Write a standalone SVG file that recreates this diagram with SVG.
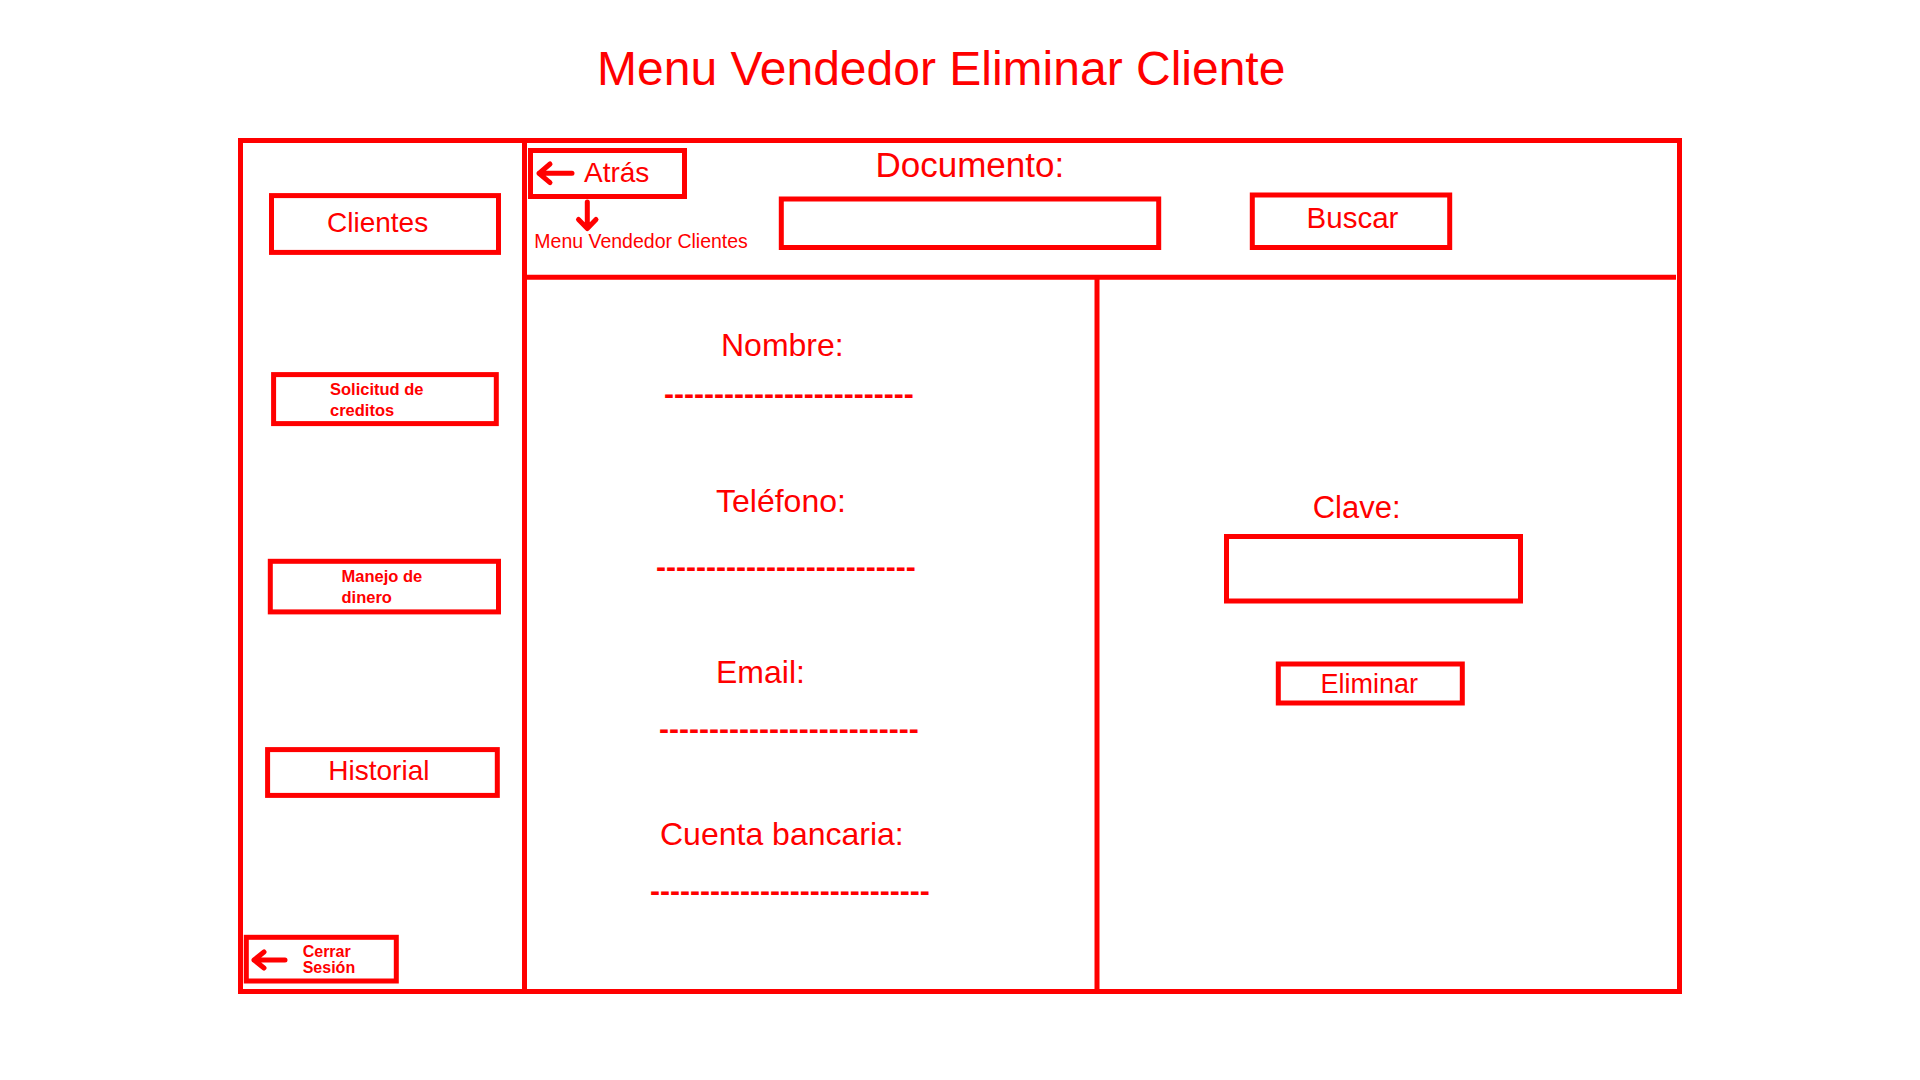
<svg xmlns="http://www.w3.org/2000/svg" width="1920" height="1080" viewBox="0 0 1920 1080">
<style>
.box{fill:none;stroke:#ff0000;stroke-width:5}
.line{stroke:#ff0000;stroke-width:5;fill:none}
.arr{stroke:#ff0000;stroke-width:5;fill:none;stroke-linecap:round;stroke-linejoin:round}
text{fill:#ff0000;font-family:"Liberation Sans",Arial,sans-serif}
.t28{font-size:28px}
.t32{font-size:32px}
.sm{font-size:16.5px;font-weight:bold}
.dash{font-size:30px;font-weight:bold}
</style>
<rect width="1920" height="1080" fill="#ffffff"/>
<text x="597" y="85" style="font-size:48px">Menu Vendedor Eliminar Cliente</text>
<g id="frame">
<rect class="box" x="240.5" y="140.5" width="1439" height="851"/>
<line class="line" x1="524.5" y1="140" x2="524.5" y2="992"/>
<line class="line" x1="524.5" y1="277.3" x2="1676" y2="277.3"/>
<line class="line" x1="1097" y1="277" x2="1097" y2="992"/>
</g>
<g id="clientes">
<rect class="box" x="271.5" y="195.6" width="227" height="56.8"/>
<text class="t28" x="327" y="232">Clientes</text>
</g>
<g id="solicitud">
<rect class="box" x="273.6" y="374.6" width="222.7" height="49"/>
<text class="sm" x="330" y="394.7">Solicitud de</text>
<text class="sm" x="330" y="416">creditos</text>
</g>
<g id="manejo">
<rect class="box" x="270.3" y="561.3" width="228.2" height="50.6"/>
<text class="sm" x="341.5" y="581.7">Manejo de</text>
<text class="sm" x="341.5" y="603.3">dinero</text>
</g>
<g id="historial">
<rect class="box" x="267.6" y="749.6" width="229.7" height="45.8"/>
<text class="t28" x="328.3" y="780">Historial</text>
</g>
<g id="cerrar">
<rect class="box" x="246.3" y="937.3" width="150" height="43.7"/>
<text x="302.7" y="956.7" style="font-size:16px;font-weight:bold">Cerrar</text>
<text x="302.7" y="972.7" style="font-size:16px;font-weight:bold">Sesión</text>
</g>
<g id="atras">
<rect class="box" x="530.5" y="150.5" width="154" height="46"/>
<text class="t28" x="584" y="181.7">Atrás</text>
</g>
<g id="menu-clientes">
<text x="534.3" y="248.3" style="font-size:19.5px">Menu Vendedor Clientes</text>
</g>
<g id="documento">
<text x="875.5" y="176.7" style="font-size:35px">Documento:</text>
<rect class="box" x="781.3" y="199" width="377.4" height="48.5"/>
</g>
<g id="buscar">
<rect class="box" x="1252.3" y="195" width="197.4" height="52.5"/>
<text x="1306.6" y="227.8" style="font-size:29.5px">Buscar</text>
</g>
<g id="nombre">
<text class="t32" x="721" y="355.5">Nombre:</text>
<text class="dash" x="664" y="404">-------------------------</text>
</g>
<g id="telefono">
<text class="t32" x="716" y="512">Teléfono:</text>
<text class="dash" x="656" y="577">--------------------------</text>
</g>
<g id="email">
<text class="t32" x="716" y="683">Email:</text>
<text class="dash" x="659" y="739">--------------------------</text>
</g>
<g id="cuenta">
<text class="t32" x="660" y="845">Cuenta bancaria:</text>
<text class="dash" x="650" y="901">----------------------------</text>
</g>
<g id="clave">
<text x="1312.7" y="518" style="font-size:31px">Clave:</text>
<rect class="box" x="1226.5" y="536.5" width="294" height="64.5"/>
</g>
<g id="eliminar">
<rect class="box" x="1278.3" y="664" width="184" height="39"/>
<text x="1320.5" y="693.3" style="font-size:27px">Eliminar</text>
</g>
<g id="connectors">
<path class="arr" d="M572 173.3 H539 M550 164 L539 173.3 L550 182.6"/>
<path class="arr" d="M587.3 202 V228 M578.5 219.5 L587.3 228.5 L596 219.5"/>
<path class="arr" d="M285 960 H254 M264 952 L254 960 L264 968"/>
</g>
</svg>
